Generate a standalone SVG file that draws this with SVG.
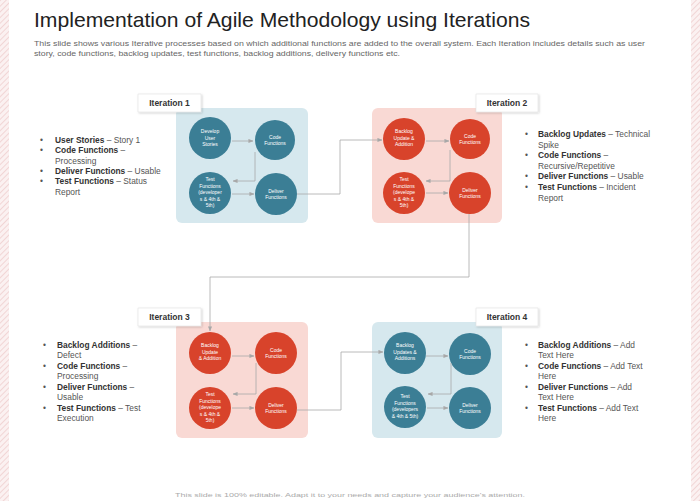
<svg xmlns="http://www.w3.org/2000/svg" width="700" height="501" viewBox="0 0 700 501">
<defs>
<pattern id="hatch" width="4" height="4" patternUnits="userSpaceOnUse" patternTransform="rotate(45)">
<rect width="4" height="4" fill="#fbf1f1"/>
<line x1="0" y1="0" x2="0" y2="4" stroke="#ecc6c6" stroke-width="1.3"/>
</pattern>
<marker id="arr" viewBox="0 0 6 6" refX="5.5" refY="3" markerWidth="5" markerHeight="5" orient="auto" markerUnits="userSpaceOnUse">
<path d="M0,0.5 L6,3 L0,5.5 Z" fill="#a8a8a8"/>
</marker>
<filter id="sh" x="-10%" y="-20%" width="125%" height="150%">
<feDropShadow dx="1" dy="1" stdDeviation="1" flood-color="#000" flood-opacity="0.18"/>
</filter>
</defs>
<style>
.title{font-family:"Liberation Sans",Arial,sans-serif;font-size:21px;fill:#222}
.sub{font-family:"Liberation Sans",Arial,sans-serif;font-size:7.6px;fill:#666}
.lab{font-family:"Liberation Sans",Arial,sans-serif;font-size:8.5px;font-weight:bold;fill:#333}
.labbox{fill:#fff;stroke:#e2e2e2;stroke-width:0.6}
.blue{fill:#d6e8ee}
.pink{fill:#f9d9d4}
.teal{fill:#3b7e95}
.red{fill:#d8432b}
.ct{font-family:"Liberation Sans",Arial,sans-serif;font-size:5px;fill:#fff;text-anchor:middle}
.bl{font-family:"Liberation Sans",Arial,sans-serif;font-size:8.4px;fill:#555}
.bl .b{font-weight:bold;fill:#333}
.conn{fill:none;stroke:#a8a8a8;stroke-width:0.8;marker-end:url(#arr)}
.foot{font-family:"Liberation Sans",Arial,sans-serif;font-size:6px;fill:#aaa}
</style>
<rect width="700" height="501" fill="#fff"/>
<rect x="0" y="0" width="9" height="501" fill="url(#hatch)"/>
<rect x="691" y="0" width="9" height="501" fill="url(#hatch)"/>

<g id="header">
<text class="title" x="34" y="27" textLength="496" lengthAdjust="spacingAndGlyphs">Implementation of Agile Methodology using Iterations</text>
<text class="sub" x="34" y="46" textLength="611" lengthAdjust="spacingAndGlyphs">This slide shows various Iterative processes based on which additional functions are added to the overall system. Each Iteration includes details such as user</text>
<text class="sub" x="34" y="56" textLength="366" lengthAdjust="spacingAndGlyphs">story, code functions, backlog updates, test functions, backlog additions, delivery functions etc.</text>
</g>

<g id="iteration1">
<rect class="blue" x="176" y="108" width="132" height="115" rx="6"/>
<rect class="labbox" x="138" y="94" width="63" height="18" filter="url(#sh)"/>
<text class="lab" x="169.5" y="106" text-anchor="middle">Iteration 1</text>
<g id="i1-develop"><circle class="teal" cx="210" cy="138" r="21"/><text class="ct" x="210" y="133">Develop</text><text class="ct" x="210" y="139.5">User</text><text class="ct" x="210" y="146">Stories</text></g>
<g id="i1-code"><circle class="teal" cx="275" cy="140" r="20"/><text class="ct" x="275" y="138.5">Code</text><text class="ct" x="275" y="145">Functions</text></g>
<g id="i1-test"><circle class="teal" cx="210" cy="193" r="21"/><text class="ct" x="210" y="181">Test</text><text class="ct" x="210" y="187.5">Functions</text><text class="ct" x="210" y="194">(developer</text><text class="ct" x="210" y="200.5">s &amp; 4th &amp;</text><text class="ct" x="210" y="207">5th)</text></g>
<g id="i1-deliver"><circle class="teal" cx="276" cy="194" r="21"/><text class="ct" x="276" y="192.5">Deliver</text><text class="ct" x="276" y="199">Functions</text></g>
</g>

<g id="iteration2">
<rect class="pink" x="372" y="108" width="130" height="115" rx="6"/>
<rect class="labbox" x="476" y="94" width="62" height="18" filter="url(#sh)"/>
<text class="lab" x="507" y="106" text-anchor="middle">Iteration 2</text>
<g id="i2-backlog"><circle class="red" cx="404" cy="139" r="21"/><text class="ct" x="404" y="133">Backlog</text><text class="ct" x="404" y="139.5">Update &amp;</text><text class="ct" x="404" y="146">Addition</text></g>
<g id="i2-code"><circle class="red" cx="470" cy="139" r="20"/><text class="ct" x="470" y="137.5">Code</text><text class="ct" x="470" y="144">Functions</text></g>
<g id="i2-test"><circle class="red" cx="404" cy="193" r="21"/><text class="ct" x="404" y="181">Test</text><text class="ct" x="404" y="187.5">Functions</text><text class="ct" x="404" y="194">(develope</text><text class="ct" x="404" y="200.5">s &amp; 4th &amp;</text><text class="ct" x="404" y="207">5th)</text></g>
<g id="i2-deliver"><circle class="red" cx="470" cy="193" r="21"/><text class="ct" x="470" y="191.5">Deliver</text><text class="ct" x="470" y="198">Functions</text></g>
</g>

<g id="iteration3">
<rect class="pink" x="176" y="322" width="132" height="116" rx="6"/>
<rect class="labbox" x="138" y="308" width="63" height="18" filter="url(#sh)"/>
<text class="lab" x="169.5" y="320" text-anchor="middle">Iteration 3</text>
<g id="i3-backlog"><circle class="red" cx="210" cy="353" r="21"/><text class="ct" x="210" y="347">Backlog</text><text class="ct" x="210" y="353.5">Update</text><text class="ct" x="210" y="360">&amp; Addition</text></g>
<g id="i3-code"><circle class="red" cx="276" cy="353" r="21"/><text class="ct" x="276" y="351.5">Code</text><text class="ct" x="276" y="358">Functions</text></g>
<g id="i3-test"><circle class="red" cx="210" cy="408" r="21"/><text class="ct" x="210" y="396">Test</text><text class="ct" x="210" y="402.5">Functions</text><text class="ct" x="210" y="409">(develope</text><text class="ct" x="210" y="415.5">s &amp; 4th &amp;</text><text class="ct" x="210" y="422">5th)</text></g>
<g id="i3-deliver"><circle class="red" cx="276" cy="408" r="21"/><text class="ct" x="276" y="406.5">Deliver</text><text class="ct" x="276" y="413">Functions</text></g>
</g>

<g id="iteration4">
<rect class="blue" x="372" y="322" width="130" height="116" rx="6"/>
<rect class="labbox" x="476" y="308" width="62" height="18" filter="url(#sh)"/>
<text class="lab" x="507" y="320" text-anchor="middle">Iteration 4</text>
<g id="i4-backlog"><circle class="teal" cx="405" cy="353" r="21"/><text class="ct" x="405" y="347">Backlog</text><text class="ct" x="405" y="353.5">Updates &amp;</text><text class="ct" x="405" y="360">Additions</text></g>
<g id="i4-code"><circle class="teal" cx="470" cy="354" r="21"/><text class="ct" x="470" y="352.5">Code</text><text class="ct" x="470" y="359">Functions</text></g>
<g id="i4-test"><circle class="teal" cx="405" cy="407" r="21"/><text class="ct" x="405" y="398">Test</text><text class="ct" x="405" y="404.5">Functions</text><text class="ct" x="405" y="411">(developers</text><text class="ct" x="405" y="417.5">&amp; 4th &amp; 5th)</text></g>
<g id="i4-deliver"><circle class="teal" cx="470" cy="408" r="21"/><text class="ct" x="470" y="406.5">Deliver</text><text class="ct" x="470" y="413">Functions</text></g>
</g>

<g id="connectors">
<path class="conn" d="M232,141 H253"/>
<path class="conn" d="M255,152 V181 H233"/>
<path class="conn" d="M232,194 H254"/>
<path class="conn" d="M297,194 H340 V140 H382"/>
<path class="conn" d="M426,141 H449"/>
<path class="conn" d="M450,150 V181 H426"/>
<path class="conn" d="M426,193 H448"/>
<path class="conn" d="M469,214 V277 H210 V331"/>
<path class="conn" d="M232,356 H254"/>
<path class="conn" d="M256,363 V394 H233"/>
<path class="conn" d="M232,408 H254"/>
<path class="conn" d="M297,410 H341 V352 H383"/>
<path class="conn" d="M426,356 H448"/>
<path class="conn" d="M451,363 V394 H428"/>
<path class="conn" d="M427,408 H448"/>
</g>

<g id="list1" class="bl">
<text x="40" y="143">•</text><text x="55" y="143"><tspan class="b">User Stories</tspan> – Story 1</text>
<text x="40" y="153">•</text><text x="55" y="153"><tspan class="b">Code Functions</tspan> –</text>
<text x="55" y="164">Processing</text>
<text x="40" y="174">•</text><text x="55" y="174"><tspan class="b">Deliver Functions</tspan>  – Usable</text>
<text x="40" y="184">•</text><text x="55" y="184"><tspan class="b">Test Functions</tspan>  – Status</text>
<text x="55" y="195">Report</text>
</g>

<g id="list2" class="bl">
<text x="525" y="137">•</text><text x="538" y="137"><tspan class="b">Backlog Updates</tspan> – Technical</text>
<text x="538" y="148">Spike</text>
<text x="525" y="158">•</text><text x="538" y="158"><tspan class="b">Code Functions</tspan>  –</text>
<text x="538" y="169">Recursive/Repetitive</text>
<text x="525" y="179">•</text><text x="538" y="179"><tspan class="b">Deliver Functions</tspan>  – Usable</text>
<text x="525" y="190">•</text><text x="538" y="190"><tspan class="b">Test Functions</tspan>  – Incident</text>
<text x="538" y="201">Report</text>
</g>

<g id="list3" class="bl">
<text x="43" y="348">•</text><text x="57" y="348"><tspan class="b">Backlog Additions</tspan> –</text>
<text x="57" y="358">Defect</text>
<text x="43" y="369">•</text><text x="57" y="369"><tspan class="b">Code Functions</tspan> –</text>
<text x="57" y="379">Processing</text>
<text x="43" y="390">•</text><text x="57" y="390"><tspan class="b">Deliver Functions</tspan> –</text>
<text x="57" y="400">Usable</text>
<text x="43" y="411">•</text><text x="57" y="411"><tspan class="b">Test Functions</tspan> – Test</text>
<text x="57" y="421">Execution</text>
</g>

<g id="list4" class="bl">
<text x="525" y="348">•</text><text x="538" y="348"><tspan class="b">Backlog Additions</tspan>  – Add</text>
<text x="538" y="358">Text Here</text>
<text x="525" y="369">•</text><text x="538" y="369"><tspan class="b">Code Functions</tspan>  – Add Text</text>
<text x="538" y="379">Here</text>
<text x="525" y="390">•</text><text x="538" y="390"><tspan class="b">Deliver Functions</tspan>  – Add</text>
<text x="538" y="400">Text Here</text>
<text x="525" y="411">•</text><text x="538" y="411"><tspan class="b">Test Functions</tspan>  – Add Text</text>
<text x="538" y="421">Here</text>
</g>

<g id="footer">
<text class="foot" x="175" y="497" textLength="350" lengthAdjust="spacingAndGlyphs">This slide is 100% editable. Adapt it to your needs and capture your audience's attention.</text>
</g>
</svg>
